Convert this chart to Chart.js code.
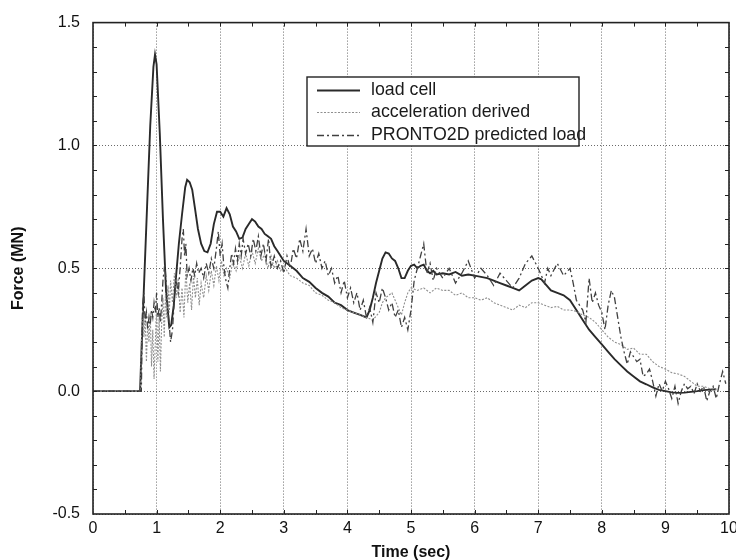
<!DOCTYPE html>
<html>
<head>
<meta charset="utf-8">
<script src="https://cdn.jsdelivr.net/npm/chart.js@4.4.0/dist/chart.umd.min.js"></script>
<style>
html,body{margin:0;padding:0;background:#fff;overflow:hidden;}
canvas{display:block;}
</style>
</head>
<body>
<canvas id="c" width="750" height="560" style="width:750px;height:560px"></canvas>
<script>
// ---- data ----
const xTicks = [0,1,2,3,4,5,6,7,8,9,10];
const yTicks = [-0.5,0.0,0.5,1.0,1.5];
const seriesNames = ['load cell','acceleration derived','PRONTO2D predicted load'];

const loadT = [0,0.74,0.76,0.79,0.85,0.9,0.95,0.975,1.0,1.05,1.1,1.15,1.2,1.23,1.27,1.3,1.35,1.4,1.45,1.48,1.52,1.56,1.6,1.65,1.7,1.75,1.8,1.85,1.9,1.95,2.0,2.05,2.1,2.15,2.2,2.25,2.3,2.35,2.4,2.45,2.5,2.55,2.6,2.65,2.7,2.75,2.8,2.85,2.9,2.95,3.0,3.1,3.2,3.3,3.4,3.5,3.6,3.7,3.8,3.9,4.0,4.1,4.2,4.3,4.35,4.4,4.45,4.5,4.55,4.6,4.65,4.7,4.75,4.8,4.85,4.9,4.95,5.0,5.05,5.1,5.15,5.2,5.25,5.3,5.35,5.4,5.5,5.6,5.7,5.8,5.9,6.0,6.1,6.2,6.3,6.4,6.5,6.6,6.7,6.8,6.9,7.0,7.05,7.1,7.2,7.3,7.4,7.5,7.6,7.7,7.8,7.9,8.0,8.1,8.2,8.3,8.4,8.5,8.6,8.7,8.8,8.9,9.0,9.1,9.2,9.3,9.4,9.5,9.6,9.7,9.8];
const loadV = [0,0,0.15,0.35,0.75,1.08,1.32,1.37,1.33,1.05,0.7,0.4,0.26,0.27,0.35,0.45,0.6,0.72,0.83,0.86,0.85,0.82,0.75,0.66,0.6,0.57,0.565,0.6,0.68,0.73,0.73,0.71,0.745,0.72,0.67,0.65,0.62,0.625,0.66,0.68,0.70,0.69,0.67,0.66,0.64,0.63,0.62,0.59,0.57,0.55,0.53,0.51,0.49,0.46,0.445,0.42,0.40,0.385,0.36,0.35,0.33,0.32,0.31,0.30,0.33,0.38,0.44,0.49,0.54,0.565,0.56,0.54,0.53,0.50,0.46,0.46,0.49,0.51,0.515,0.50,0.51,0.515,0.49,0.48,0.49,0.475,0.48,0.475,0.485,0.47,0.475,0.47,0.465,0.46,0.45,0.44,0.43,0.42,0.41,0.43,0.45,0.46,0.455,0.44,0.41,0.40,0.39,0.37,0.33,0.29,0.25,0.22,0.19,0.16,0.13,0.105,0.08,0.06,0.04,0.028,0.015,0.005,0.0,-0.005,-0.007,-0.006,-0.003,0.0,0.004,0.006,0.008];

const accT = [0,0.75,0.76,0.78,0.80,0.82,0.84,0.86,0.88,0.90,0.92,0.94,0.96,0.98,1.0,1.02,1.04,1.06,1.08,1.10,1.12,1.14,1.16,1.18,1.20,1.22,1.25,1.28,1.31,1.34,1.37,1.40,1.43,1.46,1.49,1.52,1.55,1.58,1.61,1.64,1.67,1.70,1.74,1.78,1.82,1.86,1.90,1.94,1.98,2.02,2.06,2.10,2.15,2.20,2.25,2.30,2.35,2.40,2.45,2.50,2.55,2.60,2.65,2.70,2.75,2.80,2.85,2.90,2.95,3.0,3.1,3.2,3.3,3.4,3.5,3.6,3.7,3.8,3.9,4.0,4.1,4.2,4.3,4.4,4.5,4.55,4.6,4.7,4.75,4.8,4.85,4.9,4.95,5.0,5.1,5.2,5.3,5.4,5.5,5.6,5.7,5.8,5.9,6.0,6.1,6.2,6.3,6.4,6.5,6.6,6.7,6.8,6.9,7.0,7.1,7.2,7.3,7.4,7.5,7.6,7.7,7.8,7.9,8.0,8.1,8.2,8.3,8.4,8.5,8.6,8.7,8.8,8.9,9.0,9.1,9.2,9.3,9.4,9.5,9.6,9.7,9.8];
const accV = [0,0,0.2,0.33,0.22,0.30,0.12,0.28,0.20,0.32,0.10,0.25,0.05,0.20,0.35,0.12,0.30,0.08,0.28,0.38,0.22,0.40,0.30,0.43,0.32,0.45,0.36,0.48,0.38,0.46,0.32,0.42,0.30,0.50,0.36,0.44,0.33,0.47,0.38,0.46,0.35,0.44,0.38,0.47,0.41,0.49,0.43,0.51,0.45,0.53,0.47,0.50,0.46,0.53,0.49,0.55,0.50,0.56,0.51,0.57,0.52,0.58,0.53,0.56,0.50,0.55,0.50,0.53,0.49,0.51,0.47,0.46,0.44,0.43,0.40,0.39,0.37,0.36,0.34,0.33,0.32,0.31,0.30,0.29,0.32,0.36,0.38,0.40,0.37,0.34,0.31,0.36,0.40,0.42,0.41,0.42,0.40,0.42,0.41,0.41,0.39,0.40,0.38,0.38,0.37,0.38,0.36,0.35,0.34,0.33,0.35,0.34,0.36,0.36,0.35,0.34,0.345,0.33,0.33,0.325,0.31,0.30,0.28,0.25,0.22,0.20,0.19,0.17,0.175,0.15,0.15,0.12,0.10,0.09,0.075,0.07,0.06,0.04,0.02,0.02,0.01,0.008];

const proT = [0,0.76,0.78,0.80,0.82,0.84,0.86,0.88,0.90,0.92,0.94,0.96,0.98,1.0,1.02,1.04,1.06,1.08,1.10,1.13,1.16,1.19,1.22,1.25,1.28,1.31,1.34,1.37,1.40,1.42,1.44,1.46,1.48,1.51,1.54,1.57,1.60,1.63,1.66,1.70,1.74,1.78,1.82,1.86,1.90,1.94,1.97,2.0,2.03,2.06,2.09,2.12,2.15,2.18,2.21,2.24,2.27,2.30,2.33,2.36,2.40,2.44,2.48,2.52,2.56,2.60,2.64,2.68,2.72,2.76,2.80,2.85,2.90,2.95,3.0,3.05,3.10,3.15,3.20,3.25,3.30,3.35,3.40,3.45,3.50,3.55,3.60,3.65,3.70,3.75,3.80,3.85,3.90,3.95,4.0,4.05,4.10,4.15,4.20,4.25,4.30,4.35,4.40,4.45,4.50,4.55,4.60,4.65,4.70,4.75,4.80,4.85,4.90,4.95,5.0,5.05,5.1,5.15,5.2,5.25,5.3,5.35,5.4,5.5,5.6,5.7,5.8,5.9,6.0,6.1,6.2,6.3,6.4,6.5,6.6,6.7,6.8,6.9,7.0,7.1,7.15,7.2,7.3,7.4,7.5,7.55,7.6,7.7,7.75,7.8,7.85,7.9,7.95,8.0,8.05,8.1,8.15,8.2,8.25,8.3,8.35,8.4,8.45,8.5,8.55,8.6,8.65,8.7,8.75,8.8,8.85,8.9,8.95,9.0,9.05,9.1,9.15,9.2,9.25,9.3,9.35,9.4,9.45,9.5,9.55,9.6,9.65,9.7,9.75,9.8,9.85,9.9,9.95];
const proV = [0,0,0.35,0.40,0.28,0.32,0.25,0.30,0.27,0.33,0.30,0.36,0.32,0.40,0.30,0.34,0.28,0.36,0.45,0.52,0.40,0.30,0.20,0.25,0.38,0.45,0.40,0.50,0.62,0.66,0.55,0.60,0.47,0.50,0.45,0.50,0.47,0.52,0.48,0.50,0.46,0.52,0.48,0.54,0.50,0.58,0.65,0.55,0.60,0.50,0.45,0.42,0.50,0.56,0.52,0.58,0.53,0.60,0.55,0.62,0.56,0.60,0.55,0.62,0.57,0.63,0.55,0.60,0.53,0.62,0.50,0.55,0.50,0.53,0.48,0.55,0.50,0.58,0.54,0.62,0.57,0.66,0.55,0.58,0.52,0.56,0.50,0.53,0.47,0.50,0.44,0.47,0.40,0.45,0.38,0.42,0.36,0.40,0.33,0.37,0.30,0.34,0.28,0.40,0.36,0.42,0.38,0.33,0.36,0.30,0.33,0.26,0.30,0.25,0.33,0.45,0.50,0.55,0.60,0.48,0.52,0.45,0.50,0.46,0.50,0.44,0.48,0.53,0.46,0.50,0.47,0.43,0.48,0.45,0.42,0.46,0.52,0.55,0.50,0.44,0.50,0.47,0.52,0.47,0.50,0.44,0.37,0.33,0.28,0.46,0.36,0.40,0.35,0.32,0.25,0.35,0.41,0.38,0.30,0.22,0.16,0.11,0.16,0.14,0.12,0.13,0.06,0.07,0.09,0.04,-0.02,0.03,0.0,0.04,0.01,-0.03,0.02,-0.05,0.0,0.03,0.01,0.02,-0.01,0.03,0.0,0.02,-0.04,0.0,0.02,-0.03,0.03,0.08,0.03];

// ---- helpers ----
const pts = (t, v) => t.map((x, i) => ({x: x, y: v[i]}));
const FONT = '"Liberation Sans", Arial, Helvetica, sans-serif';

const styles = [
  {color:'#2a2a2a', width:1.9, dash:[]},
  {color:'#8f8f8f', width:1.1, dash:[2,1.5]},
  {color:'#404040', width:1.3, dash:[7,3,2,3]}
];

const framePlugin = {
  id: 'frame',
  afterDraw(chart) {
    const ctx = chart.ctx;
    const a = chart.chartArea;
    const xs = chart.scales.x, ys = chart.scales.y;
    ctx.save();
    ctx.strokeStyle = '#222';
    ctx.lineWidth = 1;
    ctx.setLineDash([]);
    // minor ticks x every 0.5
    for (let k = 1; k < 20; k++) {
      const px = Math.round(xs.getPixelForValue(k * 0.5)) + 0.5;
      ctx.beginPath();
      ctx.moveTo(px, a.bottom); ctx.lineTo(px, a.bottom - 4);
      ctx.moveTo(px, a.top); ctx.lineTo(px, a.top + 4);
      ctx.stroke();
    }
    // minor ticks y every 0.1
    for (let k = -4; k < 15; k++) {
      const py = Math.round(ys.getPixelForValue(k * 0.1)) + 0.5;
      ctx.beginPath();
      ctx.moveTo(a.left, py); ctx.lineTo(a.left + 4, py);
      ctx.moveTo(a.right, py); ctx.lineTo(a.right - 4, py);
      ctx.stroke();
    }
    // frame
    ctx.lineWidth = 1.6;
    ctx.strokeStyle = '#222';
    ctx.strokeRect(a.left, a.top, a.right - a.left, a.bottom - a.top);

    // legend box
    const bx = 307, by = 77, bw = 272, bh = 69;
    ctx.fillStyle = '#fff';
    ctx.fillRect(bx, by, bw, bh);
    ctx.lineWidth = 1.4;
    ctx.strokeStyle = '#222';
    ctx.strokeRect(bx, by, bw, bh);
    const rows = [90, 112, 135];
    ctx.font = '17.8px ' + FONT;
    ctx.textBaseline = 'middle';
    ctx.textAlign = 'left';
    chart.data.datasets.forEach((ds, i) => {
      ctx.save();
      ctx.strokeStyle = ds.borderColor;
      ctx.lineWidth = ds.borderWidth;
      ctx.setLineDash(ds.borderDash || []);
      ctx.beginPath();
      ctx.moveTo(317, rows[i] + 0.5); ctx.lineTo(360, rows[i] + 0.5);
      ctx.stroke();
      ctx.restore();
      ctx.fillStyle = '#1a1a1a';
      ctx.fillText(ds.label, 371, rows[i]);
    });
    ctx.restore();
  }
};

new Chart(document.getElementById('c'), {
  type: 'line',
  data: {
    datasets: [
      {label: seriesNames[0], data: pts(loadT, loadV)},
      {label: seriesNames[1], data: pts(accT, accV)},
      {label: seriesNames[2], data: pts(proT, proV)}
    ].map((d, i) => Object.assign(d, {
      borderColor: styles[i].color,
      borderWidth: styles[i].width,
      borderDash: styles[i].dash,
      pointRadius: 0,
      tension: 0,
      fill: false,
      order: 3 - i
    }))
  },
  options: {
    responsive: false,
    animation: false,
    devicePixelRatio: 1,
    layout: {padding: {top: 20, right: 21, bottom: 0, left: 0}},
    plugins: {legend: {display: false}, tooltip: {enabled: false}},
    scales: {
      x: {
        type: 'linear',
        min: 0, max: 10,
        afterFit(s) { s.height = 46; },
        afterBuildTicks(s) { s.ticks = xTicks.map(v => ({value: v})); },
        ticks: {
          callback: v => String(v),
          font: {family: FONT, size: 16},
          color: '#111',
          padding: 5,
          maxRotation: 0,
          autoSkip: false
        },
        grid: {color: '#6a6a6a', lineWidth: 1, drawTicks: false},
        border: {display: false, dash: [1, 2]},
        title: {
          display: true, text: 'Time (sec)',
          font: {family: FONT, size: 16, weight: 'bold'},
          color: '#111',
          padding: {top: 0, bottom: -2}
        }
      },
      y: {
        type: 'linear',
        min: -0.5, max: 1.5,
        afterFit(s) { s.width = 93; },
        afterBuildTicks(s) { s.ticks = yTicks.map(v => ({value: v})); },
        ticks: {
          callback: v => Number(v).toFixed(1),
          font: {family: FONT, size: 16},
          color: '#111',
          padding: 13,
          autoSkip: false
        },
        grid: {color: '#6a6a6a', lineWidth: 1, drawTicks: false},
        border: {display: false, dash: [1, 2]},
        title: {
          display: true, text: 'Force (MN)',
          font: {family: FONT, size: 16, weight: 'bold'},
          color: '#111',
          padding: {top: 9, bottom: 0}
        }
      }
    }
  },
  plugins: [framePlugin]
});
</script>
</body>
</html>
